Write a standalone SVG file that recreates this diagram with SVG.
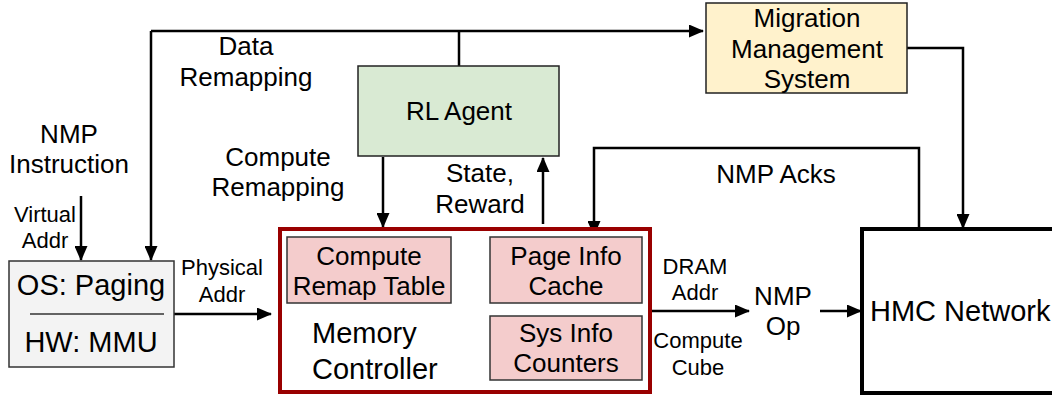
<svg xmlns="http://www.w3.org/2000/svg" width="1052" height="395" viewBox="0 0 1052 395">
  <style>
    text { font-family: "Liberation Sans", Arial, sans-serif; fill: #000; text-anchor: middle; }
    .lbl { font-size: 26px; }
    .sm { font-size: 22px; }
    .big { font-size: 29px; }
    .wire { fill: none; stroke: #000; stroke-width: 2.5; }
    .arrow { marker-end: url(#head); }
    .sub { fill: #f4cccc; stroke: #333; stroke-width: 1.5; }
  </style>
  <defs>
    <marker id="head" markerUnits="userSpaceOnUse" markerWidth="15" markerHeight="13" refX="14" refY="6.5" orient="auto">
      <path d="M0,0 L15,6.5 L0,13 z" fill="#000"/>
    </marker>
  </defs>

  <!-- connectors -->
  <g id="connectors">
    <!-- data remapping bus from RL agent to paging and migration system -->
    <path class="wire arrow" d="M151,31 L703,31"/>
    <path class="wire arrow" d="M151,31 L151,260"/>
    <path class="wire" d="M459,66 L459,31"/>
    <!-- virtual address in -->
    <path class="wire arrow" d="M81,196 L81,260"/>
    <!-- physical address -->
    <path class="wire arrow" d="M174,314 L271,314"/>
    <!-- compute remapping -->
    <path class="wire arrow" d="M383,157 L383,227"/>
    <!-- state, reward -->
    <path class="wire arrow" d="M543,224 L543,158"/>
    <!-- NMP acks from HMC -->
    <path class="wire arrow" d="M919,229 L919,148 L594,148 L594,235"/>
    <!-- migration system to HMC -->
    <path class="wire arrow" d="M907,48 L963,48 L963,228"/>
    <!-- DRAM addr / compute cube -->
    <path class="wire arrow" d="M650,311 L749,311"/>
    <!-- NMP op to HMC -->
    <path class="wire arrow" d="M820,311 L861,311"/>
  </g>

  <!-- free-standing labels -->
  <g id="labels">
    <text class="lbl" x="69" y="143">NMP</text>
    <text class="lbl" x="69" y="173">Instruction</text>
    <text class="sm" x="45" y="222">Virtual</text>
    <text class="sm" x="45" y="248">Addr</text>
    <text class="lbl" x="246" y="55">Data</text>
    <text class="lbl" x="246" y="86">Remapping</text>
    <text class="lbl" x="278" y="166">Compute</text>
    <text class="lbl" x="278" y="196">Remapping</text>
    <text class="lbl" x="480" y="182">State,</text>
    <text class="lbl" x="480" y="213">Reward</text>
    <text class="lbl" x="776" y="183">NMP Acks</text>
    <text class="sm" x="222" y="275">Physical</text>
    <text class="sm" x="222" y="302">Addr</text>
    <text class="sm" x="695" y="274">DRAM</text>
    <text class="sm" x="695" y="300">Addr</text>
    <text class="sm" x="698" y="348">Compute</text>
    <text class="sm" x="698" y="375">Cube</text>
  </g>

  <g id="nmp-op">
    <text class="lbl" x="783" y="305">NMP</text>
    <text class="lbl" x="783" y="335">Op</text>
  </g>

  <g id="os-mmu">
    <rect x="9" y="261" width="165" height="106" fill="#f3f3f3" stroke="#333" stroke-width="1.5"/>
    <line x1="30" y1="314" x2="164" y2="314" stroke="#333" stroke-width="1.5"/>
    <text class="big" x="91" y="295">OS: Paging</text>
    <text class="big" x="91" y="352">HW: MMU</text>
  </g>

  <g id="rl-agent">
    <rect x="358" y="66" width="201" height="90" fill="#d9ead3" stroke="#222" stroke-width="1.5"/>
    <text class="lbl" x="459" y="120">RL Agent</text>
  </g>

  <g id="migration">
    <rect x="706" y="3" width="201" height="90" fill="#fff2cc" stroke="#222" stroke-width="1.5"/>
    <text class="lbl" x="807" y="27">Migration</text>
    <text class="lbl" x="807" y="58">Management</text>
    <text class="lbl" x="807" y="88">System</text>
  </g>

  <g id="memory-controller">
    <rect x="280" y="229" width="370" height="163" fill="#fff" stroke="#990000" stroke-width="4"/>
    <text class="big" x="312" y="343" style="text-anchor:start">Memory</text>
    <text class="big" x="312" y="379" style="text-anchor:start">Controller</text>
  </g>

  <g id="remap-table">
    <rect class="sub" x="287" y="237" width="164" height="66"/>
    <text class="lbl" x="369" y="265">Compute</text>
    <text class="lbl" x="369" y="295">Remap Table</text>
  </g>

  <g id="page-info">
    <rect class="sub" x="490" y="237" width="152" height="66"/>
    <text class="lbl" x="566" y="265">Page Info</text>
    <text class="lbl" x="566" y="295">Cache</text>
  </g>

  <g id="sys-info">
    <rect class="sub" x="490" y="316" width="152" height="64"/>
    <text class="lbl" x="566" y="342">Sys Info</text>
    <text class="lbl" x="566" y="372">Counters</text>
  </g>

  <g id="hmc">
    <rect x="862" y="229" width="200" height="164" fill="#fff" stroke="#000" stroke-width="4"/>
    <text class="big" x="870" y="321" style="text-anchor:start">HMC Network</text>
  </g>
</svg>
